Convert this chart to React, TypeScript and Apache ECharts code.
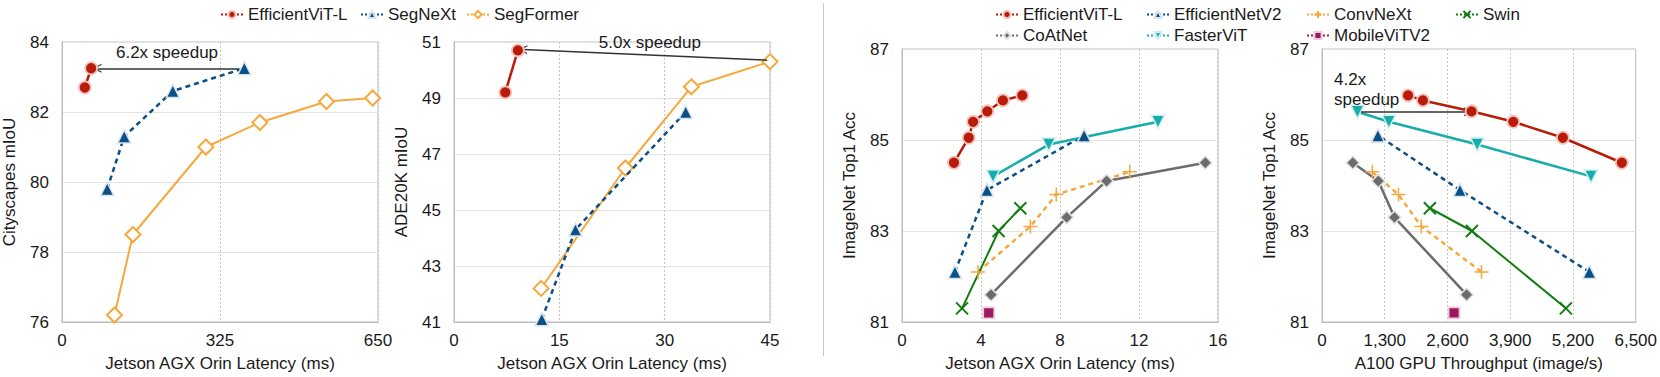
import React, { useEffect, useRef } from 'react';
import * as echarts from 'echarts';

// ---------- Chart 1: Cityscapes mIoU vs Jetson AGX Orin latency (ms)
const cityEffVitLatency = [47, 60];
const cityEffVitMiou = [82.7, 83.25];
const citySegNextLatency = [93, 128, 228, 375];
const citySegNextMiou = [79.8, 81.3, 82.6, 83.25];
const citySegFormerLatency = [108, 146, 296, 407, 544, 639];
const citySegFormerMiou = [76.2, 78.5, 81.0, 81.7, 82.3, 82.4];
const cityXRange = [0, 650, 325];
const cityYRange = [76, 84, 2];
const cityArrow = [[364, 83.25], [72, 83.25]];
const cityNoteAt = [216, 83.71];
const cityNote = '6.2x speedup';

// ---------- Chart 2: ADE20K mIoU vs Jetson AGX Orin latency (ms)
const adeEffVitLatency = [7.3, 9.1];
const adeEffVitMiou = [49.2, 50.7];
const adeSegNextLatency = [12.5, 17.3, 33.0];
const adeSegNextMiou = [41.1, 44.3, 48.5];
const adeSegFormerLatency = [12.4, 24.4, 33.8, 45.0];
const adeSegFormerMiou = [42.2, 46.5, 49.4, 50.3];
const adeXRange = [0, 45, 15];
const adeYRange = [41, 51, 2];
const adeArrow = [[44.6, 50.35], [9.8, 50.73]];
const adeNoteAt = [27.9, 50.99];
const adeNote = '5.0x speedup';

// ---------- Chart 3: ImageNet Top1 vs Jetson AGX Orin latency (ms)
const jetEffVitLatency = [2.63, 3.38, 3.6, 4.32, 5.11, 6.09];
const jetEffVitAcc = [84.5, 85.05, 85.4, 85.63, 85.87, 85.98];
const jetEffNetV2Latency = [2.68, 4.3, 9.22];
const jetEffNetV2Acc = [82.1, 83.9, 85.1];
const jetFasterVitLatency = [4.61, 7.43, 12.96];
const jetFasterVitAcc = [84.2, 84.9, 85.4];
const jetConvNextLatency = [3.85, 6.5, 7.81, 11.53];
const jetConvNextAcc = [82.1, 83.1, 83.8, 84.3];
const jetCoAtNetLatency = [4.51, 8.34, 10.36, 15.36];
const jetCoAtNetAcc = [81.6, 83.3, 84.1, 84.5];
const jetSwinLatency = [3.04, 4.89, 5.99];
const jetSwinAcc = [81.3, 83.0, 83.5];
const jetMobileVitLatency = [4.39];
const jetMobileVitAcc = [81.2];
const jetXRange = [0, 16, 4];
const accYRange = [81, 87, 2];

// ---------- Chart 4: ImageNet Top1 vs A100 GPU throughput (image/s)
const gpuEffVitThroughput = [6212, 4991, 3963, 3099, 2091, 1783];
const gpuEffVitAcc = [84.5, 85.05, 85.4, 85.63, 85.87, 85.98];
const gpuEffNetV2Throughput = [5540, 2859, 1159];
const gpuEffNetV2Acc = [82.1, 83.9, 85.1];
const gpuFasterVitThroughput = [734, 1385, 3216, 5574];
const gpuFasterVitAcc = [85.62, 85.4, 84.9, 84.2];
const gpuConvNextThroughput = [1042, 1584, 2057, 3305];
const gpuConvNextAcc = [84.3, 83.8, 83.1, 82.1];
const gpuCoAtNetThroughput = [638, 1166, 1502, 2996];
const gpuCoAtNetAcc = [84.5, 84.1, 83.3, 81.6];
const gpuSwinThroughput = [2235, 3106, 5053];
const gpuSwinAcc = [83.5, 83.0, 81.3];
const gpuMobileVitThroughput = [2736];
const gpuMobileVitAcc = [81.2];
const gpuXRange = [0, 6500, 1300];
const gpuArrow = [[809, 85.62], [3037, 85.62]];
const gpuNoteAt = [240, 86.12];
const gpuNote = '4.2x\nspeedup';

// ---------- styles
const FONT = '"Liberation Sans", Arial, Helvetica, sans-serif';
const TEXT = '#1a1a1a';
const BORDER = '#bdbdbd';
const RED = '#b81c08';
const BLUE = '#0c4f85';
const ORANGE = '#f5a83e';
const TEAL = '#17adad';
const GRAY = '#6c6c6c';
const GREEN = '#137c13';
const MAGENTA = '#9b1a5e';

const PLUS = 'path://M5,0 L5,10 M0,5 L10,5';
const CROSS = 'path://M0,0 L10,10 M10,0 L0,10';
const ARROW = 'path://M0,10 L5,0 L10,10 L8.6,10 L5,2.8 L1.4,10 Z';

const styles: Record<string, any> = {
  'EfficientViT-L': { color: RED, symbol: 'circle', size: 12, fill: RED, border: '#f2c3bc', bw: 1.8, type: 'solid', width: 2.5, z: 6 },
  SegNeXt: { color: BLUE, symbol: 'triangle', size: 13, fill: BLUE, border: '#d6e4f0', bw: 1.5, type: [5, 4], width: 2.5, z: 4 },
  SegFormer: { color: ORANGE, symbol: 'diamond', size: 15, fill: '#ffffff', border: ORANGE, bw: 2, type: 'solid', width: 2, z: 3 },
  EfficientNetV2: { color: BLUE, symbol: 'triangle', size: 13, fill: BLUE, border: '#d6e4f0', bw: 1.5, type: [5, 4], width: 2.5, z: 4 },
  FasterViT: { color: TEAL, symbol: 'triangle', rotate: 180, size: 13, fill: TEAL, border: '#cdeeee', bw: 1.5, type: 'solid', width: 2.5, z: 4 },
  ConvNeXt: { color: ORANGE, symbol: PLUS, size: 14, fill: ORANGE, border: ORANGE, bw: 1.5, type: [5, 4], width: 2.5, z: 3 },
  CoAtNet: { color: GRAY, symbol: 'diamond', size: 13, fill: GRAY, border: '#e2e2e2', bw: 1.5, type: 'solid', width: 2.5, z: 3 },
  Swin: { color: GREEN, symbol: CROSS, size: 12, fill: GREEN, border: GREEN, bw: 2, type: 'solid', width: 2, z: 3 },
  MobileViTV2: { color: MAGENTA, symbol: 'rect', size: 11, fill: MAGENTA, border: '#f2c9dd', bw: 1.8, type: 'solid', width: 2, z: 3 },
};

const pairs = (xs: number[], ys: number[]) => xs.map((x, i) => [x, ys[i]]);

function makeSeries(name: string, idx: number, xs: number[], ys: number[], extra: any = {}) {
  const s = styles[name];
  return {
    type: 'line',
    name,
    xAxisIndex: idx,
    yAxisIndex: idx,
    data: pairs(xs, ys),
    symbol: s.symbol,
    symbolSize: s.size,
    symbolRotate: s.rotate || 0,
    showAllSymbol: true,
    color: s.color,
    lineStyle: { color: s.color, width: s.width, type: s.type },
    itemStyle: { color: s.fill, borderColor: s.border, borderWidth: s.bw },
    emphasis: { disabled: true },
    z: s.z,
    ...extra,
  };
}

function arrowMark(arrow: number[][]) {
  return {
    silent: true,
    symbol: ['none', ARROW],
    symbolSize: [9, 9],
    lineStyle: { color: '#333333', width: 1.6, type: 'solid' },
    label: { show: false },
    emphasis: { disabled: true },
    data: [[{ coord: arrow[0] }, { coord: arrow[1] }]],
  };
}

function noteMark(at: number[], text: string, leftAligned = false) {
  return {
    silent: true,
    symbol: 'circle',
    symbolSize: 1,
    itemStyle: { color: 'rgba(0,0,0,0)' },
    label: {
      show: true,
      position: leftAligned ? 'right' : 'inside',
      distance: 0,
      align: leftAligned ? 'left' : 'center',
      formatter: text,
      color: TEXT,
      fontSize: 17,
      lineHeight: 20,
      fontFamily: FONT,
    },
    data: [{ coord: at }],
  };
}

function xAxis(idx: number, range: number[], name: string, comma = false) {
  return {
    type: 'value',
    gridIndex: idx,
    min: range[0],
    max: range[1],
    interval: range[2],
    name,
    nameLocation: 'middle',
    nameGap: 33,
    nameTextStyle: { fontSize: 17, color: TEXT, fontFamily: FONT },
    axisLine: { show: true, lineStyle: { color: BORDER, width: 1 } },
    axisTick: { show: false },
    splitLine: { show: true, lineStyle: { color: '#c6c6c6', type: [2, 2], width: 1 } },
    axisLabel: {
      fontSize: 17,
      color: TEXT,
      fontFamily: FONT,
      margin: 10,
      formatter: (v: number) => (comma ? v.toLocaleString('en-US') : String(v)),
    },
  };
}

function yAxis(idx: number, range: number[], name: string) {
  return {
    type: 'value',
    gridIndex: idx,
    min: range[0],
    max: range[1],
    interval: range[2],
    name,
    nameLocation: 'middle',
    nameGap: 44,
    nameTextStyle: { fontSize: 17, color: TEXT, fontFamily: FONT },
    axisLine: { show: true, lineStyle: { color: BORDER, width: 1 } },
    axisTick: { show: false },
    splitLine: { show: true, lineStyle: { color: '#e3e3e3', type: 'solid', width: 1 } },
    axisLabel: { fontSize: 17, color: TEXT, fontFamily: FONT, margin: 13 },
  };
}

function legend(names: string[], left: number, top: number) {
  return {
    data: names,
    left,
    top,
    orient: 'vertical',
    padding: 0,
    itemGap: 4,
    itemWidth: 22,
    itemHeight: 9,
    selectedMode: false,
    lineStyle: { type: [2, 2], width: 2 },
    textStyle: { fontSize: 17, color: TEXT, fontFamily: FONT },
  };
}

export default function App() {
  const ref = useRef<HTMLDivElement>(null);
  useEffect(() => {
    if (!ref.current) return;
    const chart = echarts.init(ref.current, undefined, { renderer: 'svg' });
    const gridBase = { show: true, borderColor: BORDER, borderWidth: 1, backgroundColor: 'transparent', containLabel: false };
    chart.setOption({
      animation: false,
      textStyle: { fontFamily: FONT },
      grid: [
        { ...gridBase, left: 62, top: 42, width: 316, height: 280 },
        { ...gridBase, left: 454, top: 42, width: 316, height: 280 },
        { ...gridBase, left: 902, top: 49, width: 316, height: 273 },
        { ...gridBase, left: 1322, top: 49, width: 316, height: 273 },
      ],
      xAxis: [
        xAxis(0, cityXRange, 'Jetson AGX Orin Latency (ms)'),
        xAxis(1, adeXRange, 'Jetson AGX Orin Latency (ms)'),
        xAxis(2, jetXRange, 'Jetson AGX Orin Latency (ms)'),
        xAxis(3, gpuXRange, 'A100 GPU Throughput (image/s)', true),
      ],
      yAxis: [
        yAxis(0, cityYRange, 'Cityscapes mIoU'),
        yAxis(1, adeYRange, 'ADE20K mIoU'),
        yAxis(2, accYRange, 'ImageNet Top1 Acc'),
        yAxis(3, accYRange, 'ImageNet Top1 Acc'),
      ],
      legend: [
        legend(['EfficientViT-L'], 220, 6),
        legend(['SegNeXt'], 360, 6),
        legend(['SegFormer'], 466, 6),
        legend(['EfficientViT-L', 'CoAtNet'], 995, 6),
        legend(['EfficientNetV2', 'FasterViT'], 1146, 6),
        legend(['ConvNeXt', 'MobileViTV2'], 1306, 6),
        legend(['Swin'], 1455, 6),
      ],
      graphic: [
        { type: 'line', shape: { x1: 823.5, y1: 3, x2: 823.5, y2: 356 }, style: { stroke: '#c8c8c8', lineWidth: 1 } },
      ],
      series: [
        // chart 1
        makeSeries('SegFormer', 0, citySegFormerLatency, citySegFormerMiou),
        makeSeries('SegNeXt', 0, citySegNextLatency, citySegNextMiou, {
          markLine: arrowMark(cityArrow),
          markPoint: noteMark(cityNoteAt, cityNote),
        }),
        makeSeries('EfficientViT-L', 0, cityEffVitLatency, cityEffVitMiou),
        // chart 2
        makeSeries('SegNeXt', 1, adeSegNextLatency, adeSegNextMiou),
        makeSeries('SegFormer', 1, adeSegFormerLatency, adeSegFormerMiou, {
          markLine: arrowMark(adeArrow),
          markPoint: noteMark(adeNoteAt, adeNote),
        }),
        makeSeries('EfficientViT-L', 1, adeEffVitLatency, adeEffVitMiou),
        // chart 3
        makeSeries('CoAtNet', 2, jetCoAtNetLatency, jetCoAtNetAcc),
        makeSeries('ConvNeXt', 2, jetConvNextLatency, jetConvNextAcc),
        makeSeries('Swin', 2, jetSwinLatency, jetSwinAcc),
        makeSeries('MobileViTV2', 2, jetMobileVitLatency, jetMobileVitAcc),
        makeSeries('EfficientNetV2', 2, jetEffNetV2Latency, jetEffNetV2Acc),
        makeSeries('FasterViT', 2, jetFasterVitLatency, jetFasterVitAcc),
        makeSeries('EfficientViT-L', 2, jetEffVitLatency, jetEffVitAcc),
        // chart 4
        makeSeries('CoAtNet', 3, gpuCoAtNetThroughput, gpuCoAtNetAcc),
        makeSeries('ConvNeXt', 3, gpuConvNextThroughput, gpuConvNextAcc),
        makeSeries('Swin', 3, gpuSwinThroughput, gpuSwinAcc),
        makeSeries('MobileViTV2', 3, gpuMobileVitThroughput, gpuMobileVitAcc),
        makeSeries('EfficientNetV2', 3, gpuEffNetV2Throughput, gpuEffNetV2Acc),
        makeSeries('FasterViT', 3, gpuFasterVitThroughput, gpuFasterVitAcc, {
          markLine: arrowMark(gpuArrow),
          markPoint: noteMark(gpuNoteAt, gpuNote, true),
        }),
        makeSeries('EfficientViT-L', 3, gpuEffVitThroughput, gpuEffVitAcc),
      ],
    });
    return () => chart.dispose();
  }, []);
  return (
    <div
      ref={ref}
      style={{ position: 'fixed', left: 0, top: 0, width: 1660, height: 377, background: '#ffffff' }}
    />
  );
}
